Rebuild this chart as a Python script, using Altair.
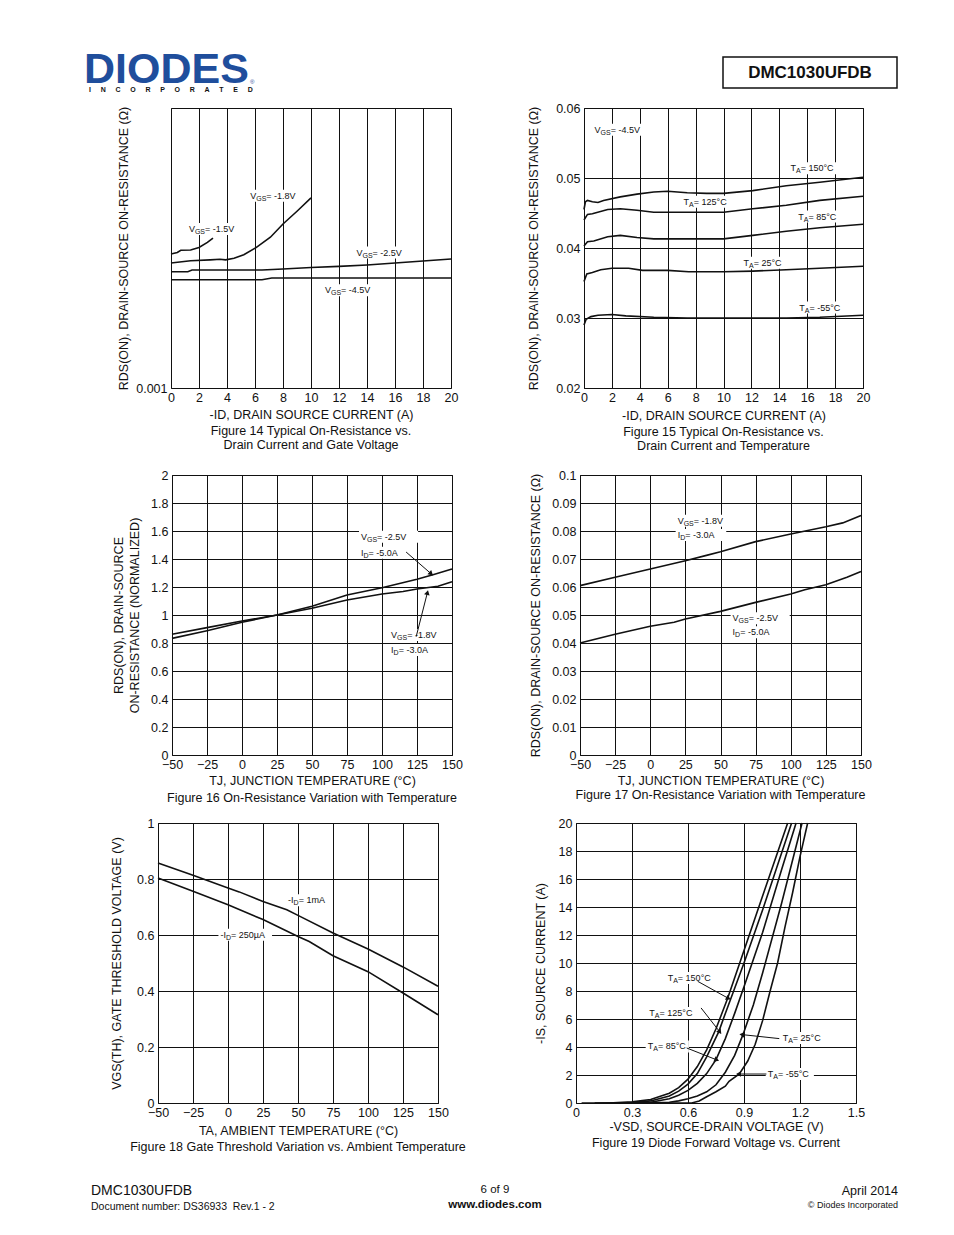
import altair as alt
import pandas as pd

FONT = "Liberation Sans"
INK = "#111111"
BLUE = "#1f4e9c"
NB = "\u00a0"

# ---------------- page texts ----------------
LOGO = "DIODES"
LOGO_SUB = (NB * 5).join(list("INCORPORATED"))
PART = "DMC1030UFDB"
FOOT_LEFT = ["DMC1030UFDB", "Document number: DS36933" + NB + NB + "Rev.1 - 2"]
FOOT_MID = ["6 of 9", "www.diodes.com"]
FOOT_RIGHT = ["April 2014", "\u00a9 Diodes Incorporated"]

# ---------------- Figure 14 ----------------
F14_45_X = [0, 6.5, 7.2, 20]
F14_45_Y = [0.0393, 0.0393, 0.0399, 0.0399]
F14_25_X = [0, 1.2, 1.5, 6.5, 8, 10, 12, 14, 16, 18, 20]
F14_25_Y = [0.0421, 0.0421, 0.0427, 0.0427, 0.0431, 0.0436, 0.0440, 0.0445, 0.0452, 0.0459, 0.0466]
F14_18_X = [0, 1.4, 2.8, 3.5, 3.9, 4.5, 5.2, 6.1, 7.1, 8.0, 9.0, 10.0]
F14_18_Y = [0.0452, 0.0460, 0.0463, 0.0465, 0.0463, 0.0469, 0.0481, 0.0507, 0.0543, 0.0590, 0.0635, 0.0682]
F14_15_X = [0, 0.45, 0.7, 1.4, 2.0, 2.6, 3.0]
F14_15_Y = [0.0484, 0.0489, 0.0497, 0.0498, 0.0507, 0.0525, 0.0540]
F14_LAB_T = ["VGS = -1.5V", "VGS = -1.8V", "VGS = -2.5V", "VGS = -4.5V"]
F14_LAB_X = [1.28, 5.66, 13.25, 11.0]
F14_LAB_Y = [0.0572, 0.069, 0.0489, 0.0356]

# ---------------- Figure 15 ----------------
F15_150_X = [0, 0.1, 0.25, 0.6, 1.0, 1.4, 2.6, 3.8, 5.0, 6.0, 7.4, 8.8, 10.0, 12.1, 14.5, 16.9, 20]
F15_150_Y = [0.0455, 0.0466, 0.0468, 0.0466, 0.0465, 0.0468, 0.0473, 0.0477, 0.0480, 0.0481, 0.0479, 0.0478, 0.0478, 0.0482, 0.0489, 0.0494, 0.0501]
F15_125_X = [0, 0.25, 0.6, 1.7, 2.6, 3.8, 5.0, 7.4, 10.0, 12.1, 14.5, 16.9, 20]
F15_125_Y = [0.0440, 0.0448, 0.0449, 0.0455, 0.0456, 0.0454, 0.0451, 0.0451, 0.0451, 0.0456, 0.0461, 0.0468, 0.0474]
F15_85_X = [0, 0.25, 0.7, 1.7, 2.6, 3.8, 5.0, 7.4, 10.0, 12.1, 14.5, 16.9, 20]
F15_85_Y = [0.0403, 0.0409, 0.0410, 0.0416, 0.0418, 0.0415, 0.0413, 0.0413, 0.0413, 0.0418, 0.0424, 0.0429, 0.0434]
F15_25_X = [0, 0.2, 0.6, 1.2, 2.0, 3.2, 4.2, 6.0, 7.5, 10.0, 12.1, 14.5, 16.9, 20]
F15_25_Y = [0.0352, 0.0363, 0.0365, 0.0369, 0.0371, 0.0371, 0.0368, 0.0368, 0.0366, 0.0366, 0.0367, 0.0369, 0.0371, 0.0374]
F15_M55_X = [0, 0.15, 0.5, 1.0, 2.0, 3.0, 5.0, 7.4, 10.0, 14.5, 16.9, 20]
F15_M55_Y = [0.0290, 0.0298, 0.0302, 0.0304, 0.0305, 0.0303, 0.0301, 0.0300, 0.0300, 0.0300, 0.0301, 0.0304]
F15_LAB_T = ["VGS = -4.5V", "TA = 150\u00b0C", "TA = 125\u00b0C", "TA = 85\u00b0C", "TA = 25\u00b0C", "TA = -55\u00b0C"]
F15_LAB_X = [0.76, 14.8, 7.14, 15.36, 11.43, 15.43]
F15_LAB_Y = [0.0569, 0.0514, 0.0466, 0.0445, 0.0379, 0.0315]

# ---------------- Figure 16 ----------------
F16_25_X = [-50, -25, 0, 25, 50, 75, 100, 125, 137, 150]
F16_25_Y = [0.833, 0.888, 0.948, 1.0, 1.062, 1.143, 1.195, 1.255, 1.29, 1.329]
F16_18_X = [-50, -25, 0, 25, 50, 75, 100, 115, 125, 140, 150]
F16_18_Y = [0.862, 0.91, 0.957, 1.0, 1.048, 1.107, 1.15, 1.168, 1.186, 1.205, 1.238]
F16_LAB_T = ["VGS = -2.5V", "ID = -5.0A", "VGS = -1.8V", "ID = -3.0A"]
F16_LAB_X = [85, 85, 106.5, 106.5]
F16_LAB_Y = [1.559, 1.445, 0.857, 0.75]
F16_ARR_X1 = [117.2, 124.4]
F16_ARR_Y1 = [1.45, 0.845]
F16_ARR_X2 = [134.7, 132.3]
F16_ARR_Y2 = [1.298, 1.155]
F16_ARR_ANG = [131, 14]

# ---------------- Figure 17 ----------------
F17_18_X = [-50, -25, 0, 25, 40, 50, 75, 100, 125, 137, 150]
F17_18_Y = [0.0605, 0.0635, 0.0664, 0.0694, 0.0713, 0.0726, 0.0762, 0.0789, 0.0815, 0.0829, 0.0855]
F17_25_X = [-50, -25, 0, 17, 25, 50, 75, 100, 110, 125, 140, 150]
F17_25_Y = [0.0400, 0.0431, 0.0460, 0.0474, 0.0486, 0.0513, 0.0545, 0.0575, 0.0590, 0.0608, 0.0635, 0.0655]
F17_LAB_T = ["VGS = -1.8V", "ID = -3.0A", "VGS = -2.5V", "ID = -5.0A"]
F17_LAB_X = [19.5, 19.5, 58.6, 58.6]
F17_LAB_Y = [0.0837, 0.0786, 0.0488, 0.0438]

# ---------------- Figure 18 ----------------
F18_1M_X = [-50, -25, 0, 8, 25, 42, 50, 75, 100, 125, 150]
F18_1M_Y = [0.857, 0.813, 0.768, 0.754, 0.720, 0.690, 0.670, 0.607, 0.550, 0.486, 0.417]
F18_250_X = [-50, -25, 0, 25, 50, 58, 75, 100, 125, 150]
F18_250_Y = [0.804, 0.756, 0.708, 0.655, 0.595, 0.577, 0.526, 0.469, 0.393, 0.315]
F18_LAB_T = ["-ID = 1mA", "-ID = 250\u00b5A"]
F18_LAB_X = [42.9, -5.4]
F18_LAB_Y = [0.724, 0.601]

# ---------------- Figure 19 ----------------
F19_150_X = [0.03, 0.2, 0.3, 0.4, 0.5, 0.55, 0.6, 0.65, 0.7, 0.75, 0.813, 0.9, 1.0, 1.134]
F19_150_Y = [0, 0.02, 0.08, 0.25, 0.7, 1.1, 1.7, 2.6, 3.8, 5.3, 7.5, 10.9, 14.8, 20]
F19_125_X = [0.1, 0.3, 0.4, 0.5, 0.55, 0.6, 0.65, 0.7, 0.765, 0.8, 0.9, 1.0, 1.155]
F19_125_Y = [0, 0.03, 0.15, 0.5, 0.85, 1.35, 2.1, 3.3, 5.1, 6.4, 10.0, 13.8, 20]
F19_85_X = [0.2, 0.4, 0.5, 0.55, 0.6, 0.65, 0.7, 0.75, 0.8, 0.85, 0.9, 1.0, 1.1, 1.179]
F19_85_Y = [0, 0.05, 0.3, 0.55, 0.9, 1.4, 2.1, 3.1, 4.6, 6.4, 8.3, 12.2, 16.6, 20]
F19_25_X = [0.3, 0.5, 0.55, 0.6, 0.65, 0.7, 0.75, 0.8, 0.85, 0.895, 0.95, 1.0, 1.1, 1.211]
F19_25_Y = [0, 0.05, 0.15, 0.3, 0.5, 0.8, 1.3, 2.2, 3.4, 4.9, 7.0, 9.3, 14.2, 20]
F19_M55_X = [0.2, 0.62, 0.66, 0.7, 0.75, 0.8, 0.82, 0.875, 0.92, 0.96, 1.0, 1.04, 1.08, 1.12, 1.16, 1.2, 1.241]
F19_M55_Y = [0, 0, 0.15, 0.45, 0.8, 1.2, 1.55, 2.07, 3.0, 4.2, 5.9, 8.0, 10.0, 12.6, 15.0, 17.6, 20]
F19_LAB_T = ["TA= 150\u00b0C", "TA= 125\u00b0C", "TA= 85\u00b0C", "TA= 25\u00b0C", "TA= -55\u00b0C"]
F19_LAB_X = [0.491, 0.393, 0.384, 1.107, 1.027]
F19_LAB_Y = [8.93, 6.43, 4.04, 4.64, 2.07]
F19_ARR_X1 = [0.652, 0.670, 0.593, 1.089, 1.02]
F19_ARR_Y1 = [8.69, 6.79, 3.93, 4.6, 2.07]
F19_ARR_X2 = [0.813, 0.768, 0.75, 0.893, 0.875]
F19_ARR_Y2 = [7.5, 5.12, 3.1, 4.88, 2.07]
F19_ARR_ANG = [119, 144, 111, 276, 270]

# label pieces: (prefix, subscript) and pixel offsets (style only)
LAB_SIZE = 9
SUB_SIZE = 7
KINDS = {
    # kind: (prefix, sub, dx_sub, dx_rest)
    "VGS": ("V", "GS", 6.0, 16.1),
    "-ID": ("-I", "D", 5.5, 10.6),
    "ID": ("I", "D", 2.5, 7.6),
    "TA": ("T", "A", 5.5, 10.2),
}


def series_frame(series):
    rows = []
    for name, xs, ys in series:
        for i, (a, b) in enumerate(zip(xs, ys)):
            rows.append({"s": name, "i": i, "x": a, "y": b})
    return pd.DataFrame(rows)


def label_frame(texts, xs, ys):
    rows = []
    for t, a, b in zip(texts, xs, ys):
        kind = next(k for k in KINDS if t.startswith(k))
        rest = t[len(kind):].replace(" ", NB)
        wbox = KINDS[kind][3] + 5.0 * len(rest) + 1
        rows.append({"k": kind, "pre": KINDS[kind][0], "sub": KINDS[kind][1],
                     "rest": rest, "x": a, "y": b,
                     "box": "M-2,-6H%.1fV6H-2Z" % wbox})
    return pd.DataFrame(rows)


def make_fig(curves, lab, arr, xdom, xvals, xfmt, ydom, yvals, yfmt, xtitle, ytitle,
             caption, w, h, ytp, xtp, ctp, ygrid=True, ytlh=16):
    xs = alt.Scale(domain=xdom, nice=False, zero=False)
    ys = alt.Scale(domain=ydom, nice=False, zero=False)
    common = dict(gridColor=INK, gridOpacity=1, gridWidth=1, domain=False,
                  ticks=False, tickSize=0, labelFont=FONT, labelFontSize=12.5,
                  labelColor=INK, labelOverlap=False, titleFont=FONT, titleFontSize=12.5,
                  titleFontWeight="normal", titleColor=INK, minExtent=0, maxExtent=0)
    xaxis = alt.Axis(values=xvals, format=xfmt, grid=True, labelPadding=3, labelFlush=False,
                     title=xtitle, titlePadding=xtp, **common)
    yaxis = alt.Axis(values=yvals, format=yfmt, grid=ygrid, labelPadding=4, labelFlush=False,
                     title=ytitle, titlePadding=ytp, titleLineHeight=ytlh, **common)
    X = alt.X("x:Q", scale=xs, axis=xaxis)
    Y = alt.Y("y:Q", scale=ys, axis=yaxis)
    layers = []
    if lab is not None:
        # white knock-out boxes behind the labels (below the curves)
        layers.append(alt.Chart(lab).mark_point(
            filled=True, color="white", opacity=1, size=4, strokeWidth=0).encode(
            x=X, y=Y, shape=alt.Shape("box:N", scale=None)))
    layers.append(alt.Chart(curves).mark_line(color=INK, strokeWidth=1.6).encode(
        x=X, y=Y, detail="s:N", order="i:Q"))
    if lab is not None:
        for kind in lab["k"].unique():
            part = lab[lab["k"] == kind]
            _, _, dsub, drest = KINDS[kind]
            layers.append(alt.Chart(part).mark_text(
                align="left", baseline="middle", font=FONT, fontSize=LAB_SIZE,
                color=INK).encode(x=X, y=Y, text="pre:N"))
            layers.append(alt.Chart(part).mark_text(
                align="left", baseline="middle", font=FONT, fontSize=SUB_SIZE, dx=dsub,
                dy=3, color=INK).encode(x=X, y=Y, text="sub:N"))
            layers.append(alt.Chart(part).mark_text(
                align="left", baseline="middle", font=FONT, fontSize=LAB_SIZE, dx=drest,
                color=INK).encode(x=X, y=Y, text="rest:N"))
    if arr is not None:
        layers.append(alt.Chart(arr).mark_rule(color=INK, strokeWidth=1).encode(
            x=X, y=Y, x2="x2:Q", y2="y2:Q"))
        layers.append(alt.Chart(arr).mark_point(
            shape="triangle", filled=True, size=32, color=INK, opacity=1).encode(
            x=alt.X("x2:Q", scale=xs, axis=xaxis), y=alt.Y("y2:Q", scale=ys, axis=yaxis),
            angle=alt.Angle("a:Q", scale=None)))
    return alt.layer(*layers).properties(
        width=w, height=h,
        title=alt.TitleParams(caption, orient="bottom", anchor="middle",
                              baseline="top", offset=ctp, font=FONT, fontSize=12.5,
                              fontWeight="normal", color=INK, lineHeight=14),
        view=alt.ViewBackground(stroke=INK, strokeWidth=1))


one = pd.DataFrame({"k": [0]})


def blank(w, h):
    return alt.Chart(one).mark_point(opacity=0, size=0).encode(
        x=alt.value(0), y=alt.value(0)).properties(
        width=w, height=h, view=alt.ViewBackground(stroke="transparent"))


def txt(t, x, y, size, weight="normal", align="left", color=INK, baseline="middle"):
    return alt.Chart(one).mark_text(text=t, font=FONT, fontSize=size, fontWeight=weight,
                                    align=align, baseline=baseline, color=color).encode(
        x=alt.value(x), y=alt.value(y))


# ---------------- figures ----------------
fig14 = make_fig(
    series_frame([("-4.5", F14_45_X, F14_45_Y), ("-2.5", F14_25_X, F14_25_Y),
                  ("-1.8", F14_18_X, F14_18_Y), ("-1.5", F14_15_X, F14_15_Y)]),
    label_frame(F14_LAB_T, F14_LAB_X, F14_LAB_Y), None,
    [0, 20], list(range(0, 21, 2)), ".0f", [0.001, 0.1], [0.001], ".3f",
    "-ID, DRAIN SOURCE CURRENT (A)", "RDS(ON), DRAIN-SOURCE ON-RESISTANCE (\u03a9)",
    ["Figure 14 Typical On-Resistance vs.", "Drain Current and Gate Voltage"],
    280, 280, 40.5, 20, 4, ygrid=False)

fig15 = make_fig(
    series_frame([("150", F15_150_X, F15_150_Y), ("125", F15_125_X, F15_125_Y),
                  ("85", F15_85_X, F15_85_Y), ("25", F15_25_X, F15_25_Y),
                  ("-55", F15_M55_X, F15_M55_Y)]),
    label_frame(F15_LAB_T, F15_LAB_X, F15_LAB_Y), None,
    [0, 20], list(range(0, 21, 2)), ".0f", [0.02, 0.06], [0.02, 0.03, 0.04, 0.05, 0.06], ".2f",
    "-ID, DRAIN SOURCE CURRENT (A)", "RDS(ON), DRAIN-SOURCE ON-RESISTANCE (\u03a9)",
    ["Figure 15 Typical On-Resistance vs.", "Drain Current and Temperature"],
    279, 280, 44, 21, 4)

fig16 = make_fig(
    series_frame([("-2.5", F16_25_X, F16_25_Y), ("-1.8", F16_18_X, F16_18_Y)]),
    label_frame(F16_LAB_T, F16_LAB_X, F16_LAB_Y),
    pd.DataFrame({"x": F16_ARR_X1, "y": F16_ARR_Y1, "x2": F16_ARR_X2, "y2": F16_ARR_Y2,
                  "a": F16_ARR_ANG}),
    [-50, 150], list(range(-50, 151, 25)), ".0f",
    [0, 2], [round(0.2 * i, 1) for i in range(11)], ".1~f",
    "TJ, JUNCTION TEMPERATURE (\u00b0C)",
    ["RDS(ON), DRAIN-SOURCE", "ON-RESISTANCE (NORMALIZED)"],
    ["Figure 16 On-Resistance Variation with Temperature"],
    280, 280, 31, 19, 5)

fig17 = make_fig(
    series_frame([("-1.8", F17_18_X, F17_18_Y), ("-2.5", F17_25_X, F17_25_Y)]),
    label_frame(F17_LAB_T, F17_LAB_X, F17_LAB_Y), None,
    [-50, 150], list(range(-50, 151, 25)), ".0f",
    [0, 0.1], [round(0.01 * i, 2) for i in range(11)], ".2~f",
    "TJ, JUNCTION TEMPERATURE (\u00b0C)", "RDS(ON), DRAIN-SOURCE ON-RESISTANCE (\u03a9)",
    ["Figure 17 On-Resistance Variation with Temperature"],
    281, 280, 38, 19, 2)

fig18 = make_fig(
    series_frame([("1m", F18_1M_X, F18_1M_Y), ("250u", F18_250_X, F18_250_Y)]),
    label_frame(F18_LAB_T, F18_LAB_X, F18_LAB_Y), None,
    [-50, 150], list(range(-50, 151, 25)), ".0f",
    [0, 1], [round(0.2 * i, 1) for i in range(6)], ".1~f",
    "TA, AMBIENT TEMPERATURE (\u00b0C)", "VGS(TH), GATE THRESHOLD VOLTAGE (V)",
    ["Figure 18 Gate Threshold Variation vs. Ambient Temperature"],
    280, 280, 34.5, 21, 4)

fig19 = make_fig(
    series_frame([("150", F19_150_X, F19_150_Y), ("125", F19_125_X, F19_125_Y),
                  ("85", F19_85_X, F19_85_Y), ("25", F19_25_X, F19_25_Y),
                  ("-55", F19_M55_X, F19_M55_Y)]),
    label_frame(F19_LAB_T, F19_LAB_X, F19_LAB_Y),
    pd.DataFrame({"x": F19_ARR_X1, "y": F19_ARR_Y1, "x2": F19_ARR_X2, "y2": F19_ARR_Y2,
                  "a": F19_ARR_ANG}),
    [0, 1.5], [0, 0.3, 0.6, 0.9, 1.2, 1.5], ".1~f", [0, 20], list(range(0, 21, 2)), ".0f",
    "-VSD, SOURCE-DRAIN VOLTAGE (V)", "-IS, SOURCE CURRENT (A)",
    ["Figure 19 Diode Forward Voltage vs. Current"],
    280, 280, 29, 17, 4)

# ---------------- header / footer ----------------
box = alt.Chart(one).mark_rect(fillOpacity=0, stroke=INK, strokeWidth=1.5).encode(
    x=alt.value(714), x2=alt.value(888), y=alt.value(48), y2=alt.value(79))
header = alt.layer(
    txt(LOGO, 75, 74, 43, "bold", color=BLUE, baseline="alphabetic"),
    txt("\u00ae", 241, 73, 6, color=BLUE),
    txt(LOGO_SUB, 80, 81, 7, "bold", color=INK),
    box,
    txt(PART, 801, 64, 17, "bold", align="center"),
).properties(width=890, height=85, view=alt.ViewBackground(stroke="transparent"))

footer = alt.layer(
    txt(FOOT_LEFT[0], 82, 36, 14),
    txt(FOOT_LEFT[1], 82, 52, 10.5),
    txt(FOOT_MID[0], 486, 35, 11.5, align="center"),
    txt(FOOT_MID[1], 486, 50, 11.5, "bold", align="center"),
    txt(FOOT_RIGHT[0], 889, 36, 12.5, align="right"),
    txt(FOOT_RIGHT[1], 889, 50, 9, align="right"),
).properties(width=890, height=60, view=alt.ViewBackground(stroke="transparent"))

# ---------------- layout ----------------
row1 = alt.hconcat(blank(162, 1), fig14, blank(133, 1), fig15, spacing=0, bounds="flush")
row2 = alt.hconcat(blank(163, 1), fig16, blank(128, 1), fig17, spacing=0, bounds="flush")
row3 = alt.hconcat(blank(149, 1), fig18, blank(138, 1), fig19, spacing=0, bounds="flush")

chart = alt.vconcat(
    header, blank(1, 4), row1, blank(1, 13), row2, blank(1, 9), row3, footer,
    spacing=0, padding=0, background="white",
).configure_view(stroke="transparent")

chart.save("out.html", embed_options={"renderer": "svg", "actions": False})
